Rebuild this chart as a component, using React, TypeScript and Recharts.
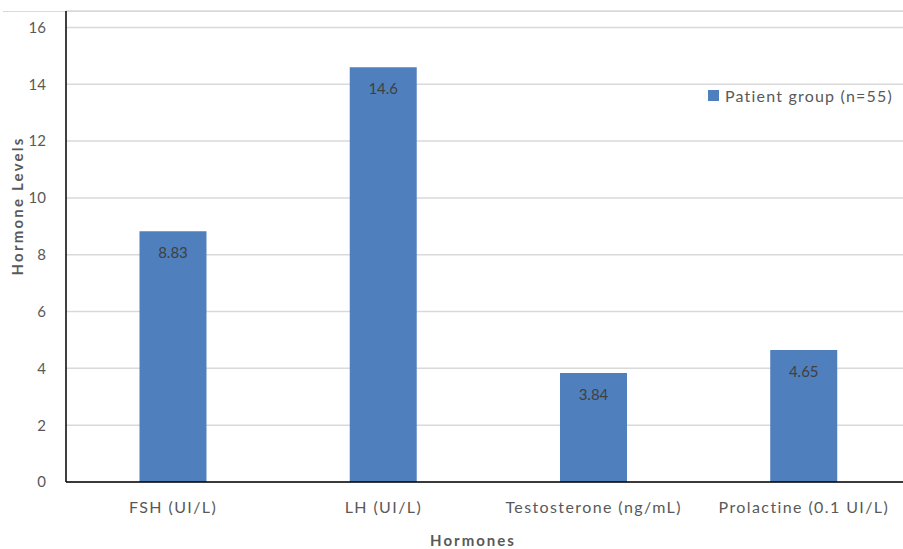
import React from 'react';
import { BarChart, Bar, XAxis, YAxis, CartesianGrid, LabelList } from 'recharts';

// Hormone categories and the patient group's mean levels
const hormones = ['FSH (UI/L)', 'LH (UI/L)', 'Testosterone (ng/mL)', 'Prolactine (0.1 UI/L)'];
const patientLevels = [8.83, 14.6, 3.84, 4.65];
const yTicks = [0, 2, 4, 6, 8, 10, 12, 14, 16];
const seriesName = 'Patient group (n=55)';

const data = hormones.map((name, i) => ({ name, patient: patientLevels[i] }));

const FONT = 'Lato, "Open Sans", sans-serif';
const BAR = '#4F7FBC';
const TEXT = '#595959';

export default function App() {
  return (
    <div style={{ position: 'absolute', left: 0, top: 0, width: 903, height: 549, background: '#fff', fontFamily: FONT, overflow: 'hidden' }}>
      <div style={{ position: 'absolute', left: 3, top: 11, width: 900, height: 0, borderTop: '1.5px solid #D9D9D9' }} />
      <BarChart
        width={903}
        height={549}
        data={data}
        margin={{ top: 11, right: -6, bottom: 37, left: 0 }}
        barCategoryGap="34%"
      >
        <CartesianGrid vertical={false} stroke="#D9D9D9" strokeWidth={1.5} />
        <XAxis
          dataKey="name"
          padding={{ left: 2, right: 0 }}
          axisLine={{ stroke: '#000', strokeWidth: 1.5 }}
          tickLine={false}
          tick={{ fill: TEXT, fontSize: 16, fontFamily: FONT, letterSpacing: 1.4 }}
          tickMargin={14}
          interval={0}
          label={{
            content: () => (
              <text x={473} y={546} textAnchor="middle" fill={TEXT} fontSize={15} fontWeight="bold" fontFamily={FONT} letterSpacing={2}>
                Hormones
              </text>
            ),
          }}
        />
        <YAxis
          width={66}
          domain={[0, 16.58]}
          ticks={yTicks}
          allowDataOverflow
          axisLine={{ stroke: '#000', strokeWidth: 1.5 }}
          tickLine={false}
          tick={{ fill: TEXT, fontSize: 15, fontFamily: FONT }}
          tickMargin={14}
          label={{
            content: () => (
              <text
                x={0}
                y={0}
                transform="translate(23, 206) rotate(-90)"
                textAnchor="middle"
                fill={TEXT}
                fontSize={15}
                fontWeight="bold"
                fontFamily={FONT}
                letterSpacing={2.2}
              >
                Hormone Levels
              </text>
            ),
          }}
        />
        <Bar dataKey="patient" name={seriesName} fill={BAR} isAnimationActive={false}>
          <LabelList
            dataKey="patient"
            position="insideTop"
            offset={16}
            fill="#404040"
            fontSize={15}
            fontFamily={FONT}
          />
        </Bar>
      </BarChart>
      <div
        style={{
          position: 'absolute',
          left: 708,
          top: 86,
          display: 'flex',
          alignItems: 'center',
          color: TEXT,
          fontSize: 16,
          fontFamily: FONT,
          letterSpacing: 1.2,
          whiteSpace: 'nowrap',
        }}
      >
        <span style={{ display: 'inline-block', width: 11, height: 11, background: BAR, marginRight: 6 }} />
        {seriesName}
      </div>
    </div>
  );
}
